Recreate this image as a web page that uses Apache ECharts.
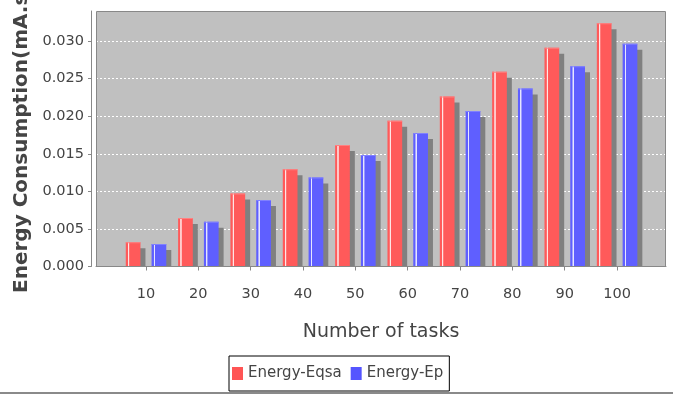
<!DOCTYPE html>
<html><head><meta charset="utf-8">
<script src="https://cdn.jsdelivr.net/npm/echarts@6/dist/echarts.min.js"></script>
<style>html,body{margin:0;padding:0;background:#fff}#c{width:673px;height:394px}</style>
</head><body><div id="c"></div>
<script>
// ---- data ----
const categories = ['10', '20', '30', '40', '50', '60', '70', '80', '90', '100'];
const eqsaValues = [0.00322, 0.00645, 0.00973, 0.01293, 0.01616, 0.01939, 0.02263, 0.02590, 0.02910, 0.03238];
const epValues   = [0.00299, 0.00596, 0.00884, 0.01186, 0.01483, 0.01775, 0.02068, 0.02370, 0.02666, 0.02963];
const seriesNames = ['Energy-Eqsa', 'Energy-Ep'];
const yTickStep = 0.005;
const yMax = 0.034;
const xTitle = 'Number of tasks';
const yTitle = 'Energy Consumption(mA.s)';

// ---- style ----
const FONT = 'DejaVu Sans';
const TXT = '#444444';
const AXIS = '#888888';
const SHADOW_DX = 5, SHADOW_DY = 6;
const PLOT = { left: 96, top: 11, width: 570, height: 255.5 };
const BARS = { left: 119.8, top: 11, width: 523.4, height: 255.5 };

function barRenderer(offsetFrac, widthFrac, base, glint, topLine) {
  return function (params, api) {
    const idx = api.value(0);
    const val = api.value(1);
    const top = api.coord([idx, val]);
    const bottom = api.coord([idx, 0]);
    const band = api.size([1, 0])[0];
    const w = band * widthFrac;
    const x = top[0] + band * offsetFrac;
    const h = bottom[1] - top[1];
    return {
      type: 'group',
      children: [
        { type: 'rect', shape: { x: x + SHADOW_DX, y: top[1] + SHADOW_DY, width: w, height: h }, style: { fill: '#808080' } },
        { type: 'rect', shape: { x: x, y: top[1], width: w, height: h }, style: { fill: {
          type: 'linear', x: 0, y: 0, x2: 1, y2: 0,
          colorStops: [
            { offset: 0, color: base }, { offset: 0.13, color: base },
            { offset: 0.17, color: glint }, { offset: 0.22, color: glint },
            { offset: 0.26, color: base }, { offset: 1, color: base }
          ] } } },
        { type: 'rect', shape: { x: x, y: top[1], width: w, height: 1 }, style: { fill: topLine } }
      ]
    };
  };
}

const chart = echarts.init(document.getElementById('c'), null, { renderer: 'canvas' });
chart.setOption({
  animation: false,
  backgroundColor: '#ffffff',
  textStyle: { fontFamily: FONT },
  grid: [
    Object.assign({ show: true, backgroundColor: '#c0c0c0', borderWidth: 0, containLabel: false, outerBoundsMode: 'none' }, PLOT),
    Object.assign({ show: false, containLabel: false, outerBoundsMode: 'none' }, BARS)
  ],
  xAxis: [
    {
      gridIndex: 0, type: 'category', data: categories, offset: 6,
      axisLine: { show: true, lineStyle: { color: AXIS, width: 1 } },
      axisTick: { show: false }, axisLabel: { show: false }, splitLine: { show: false },
      name: xTitle, nameLocation: 'middle', nameGap: 50,
      nameTextStyle: { fontFamily: FONT, fontSize: 19, color: TXT }
    },
    {
      gridIndex: 1, type: 'category', data: categories, offset: 6,
      axisLine: { show: false },
      axisTick: { show: true, alignWithLabel: true, length: 4, lineStyle: { color: AXIS } },
      axisLabel: { margin: 14, fontFamily: FONT, fontSize: 14.5, color: TXT },
      splitLine: { show: false }
    }
  ],
  yAxis: [
    {
      gridIndex: 0, type: 'value', min: 0, max: yMax, interval: yTickStep, offset: 5,
      axisLine: { show: true, lineStyle: { color: AXIS, width: 1 } },
      axisTick: { show: true, length: 3, lineStyle: { color: AXIS } },
      axisLabel: { margin: 7, fontFamily: FONT, fontSize: 14.5, color: TXT, showMaxLabel: false,
        formatter: function (v) { return Math.abs(v / yTickStep - Math.round(v / yTickStep)) < 1e-6 ? v.toFixed(3) : ''; } },
      splitLine: { show: true, lineStyle: { color: '#ffffff', width: 1, type: [2, 2] } },
      name: yTitle, nameLocation: 'middle', nameRotate: 90, nameGap: 55,
      nameTextStyle: { fontFamily: FONT, fontSize: 20, fontWeight: 'bold', color: TXT }
    },
    { gridIndex: 1, type: 'value', min: 0, max: yMax, interval: yTickStep, show: false }
  ],
  legend: {
    data: seriesNames, left: 229, top: 356, orient: 'horizontal',
    padding: [10, 6, 10, 3], itemGap: 9, itemWidth: 11, itemHeight: 13, icon: 'rect',
    borderColor: '#000000', borderWidth: 1, borderRadius: 0,
    textStyle: { fontFamily: FONT, fontSize: 15, color: TXT }
  },
  graphic: [
    { type: 'rect', z: 100, silent: true,
      shape: { x: PLOT.left + 0.5, y: PLOT.top + 0.5, width: PLOT.width - 1, height: PLOT.height - 0.5 },
      style: { fill: 'none', stroke: AXIS, lineWidth: 1 } },
    { type: 'rect', z: 100, silent: true, shape: { x: 0, y: 392, width: 673, height: 2 }, style: { fill: '#8a8a8a' } }
  ],
  series: [
    {
      name: seriesNames[0], type: 'custom', xAxisIndex: 1, yAxisIndex: 1, clip: true,
      itemStyle: { color: '#ff5555' },
      data: categories.map(function (c, i) { return [i, eqsaValues[i]]; }),
      encode: { x: 0, y: 1 },
      renderItem: barRenderer(-0.386, 0.281, '#ff5a5a', '#ffe6e6', '#ff8080')
    },
    {
      name: seriesNames[1], type: 'custom', xAxisIndex: 1, yAxisIndex: 1, clip: true,
      itemStyle: { color: '#5555ff' },
      data: categories.map(function (c, i) { return [i, epValues[i]]; }),
      encode: { x: 0, y: 1 },
      renderItem: barRenderer(0.107, 0.281, '#5f5fff', '#e6e6ff', '#8080ff')
    }
  ]
});
</script>
</body></html>
